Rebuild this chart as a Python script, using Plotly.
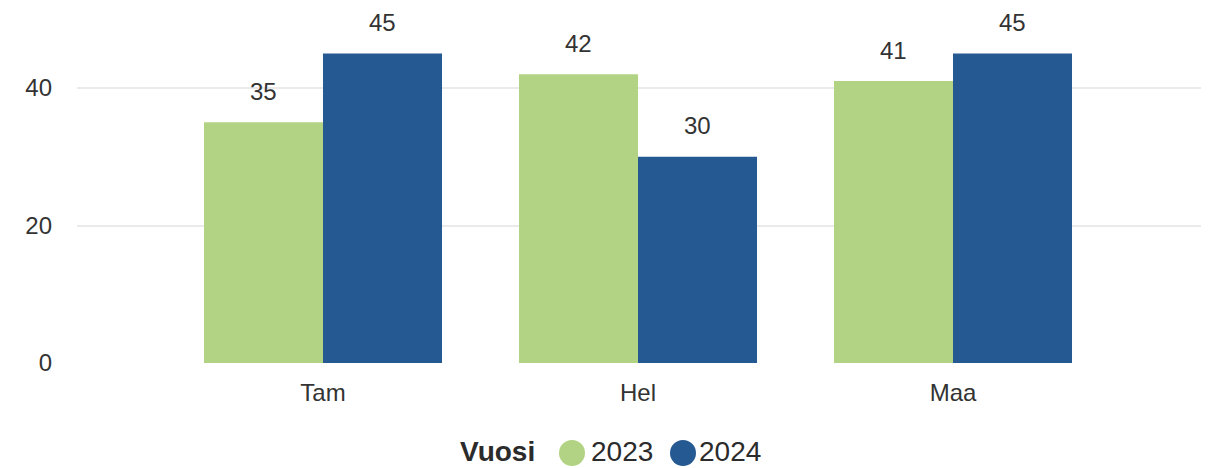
import plotly.graph_objects as go

categories = ["Tam", "Hel", "Maa"]
series_names = ["2023", "2024"]
values_2023 = [35, 42, 41]
values_2024 = [45, 30, 45]
series_colors = ["#B2D383", "#255991"]
legend_title = "Vuosi"
y_ticks = [0, 20, 40]

series_values = [values_2023, values_2024]

# plot area geometry (figure pixels)
W, H = 1201, 460
ML, MR, MT, MB = 69, 4, 12, 105
PW, PH = W - ML - MR, H - MT - MB


def px(fx):
    return (fx - ML) / PW


def py(fy):
    return (H - MB - fy) / PH


fig = go.Figure()
for name, vals, col in zip(series_names, series_values, series_colors):
    fig.add_bar(x=categories, y=vals, name=name, marker_color=col,
                marker_line_width=0, showlegend=False)

annotations = []
offsets = [-59.5, 59.5]
for vals, off in zip(series_values, offsets):
    for cat, v in zip(categories, vals):
        annotations.append(dict(x=cat, y=v, xref="x", yref="y", text=str(v),
                                showarrow=False, xshift=off, yshift=31,
                                yanchor="middle", xanchor="center",
                                font=dict(size=24, color="#333333")))

# manual legend: title + circle + label per series
legend_y = 443
annotations.append(dict(x=px(450), y=py(legend_y), xref="paper", yref="paper",
                        text="<b>%s</b>" % legend_title, showarrow=False,
                        xanchor="left", yanchor="middle",
                        font=dict(size=28, color="#2b2b2b")))
shapes = []
circle_centers = [564, 675]
label_lefts = [581, 689]
for name, col, cx, lx in zip(series_names, series_colors, circle_centers, label_lefts):
    shapes.append(dict(type="circle", xref="paper", yref="paper",
                       xsizemode="pixel", ysizemode="pixel",
                       xanchor=px(cx), yanchor=py(445),
                       x0=-13, x1=13, y0=-13, y1=13,
                       fillcolor=col, line=dict(width=0)))
    annotations.append(dict(x=px(lx), y=py(legend_y), xref="paper", yref="paper",
                            text=name, showarrow=False, xanchor="left",
                            yanchor="middle", font=dict(size=28, color="#2b2b2b")))

fig.update_layout(
    width=W, height=H,
    margin=dict(l=ML, r=MR, t=MT, b=MB),
    plot_bgcolor="white", paper_bgcolor="white",
    font=dict(family="Liberation Sans, Arial, DejaVu Sans", size=24, color="#333333"),
    barmode="group", bargap=0.2444, bargroupgap=0,
    annotations=annotations, shapes=shapes,
    showlegend=False,
)
fig.update_xaxes(type="category", range=[-0.781, 2.800], showgrid=False,
                 ticks="", showline=False, ticklabelstandoff=13,
                 tickfont=dict(size=24, color="#333333"))
fig.update_yaxes(range=[0, 49.89], tickvals=y_ticks, showgrid=True,
                 gridcolor="#EAEAEA", gridwidth=1.5, zeroline=False,
                 showline=False, ticks="", ticklabelstandoff=24,
                 tickfont=dict(size=24, color="#333333"))

fig.write_html("out.html")
